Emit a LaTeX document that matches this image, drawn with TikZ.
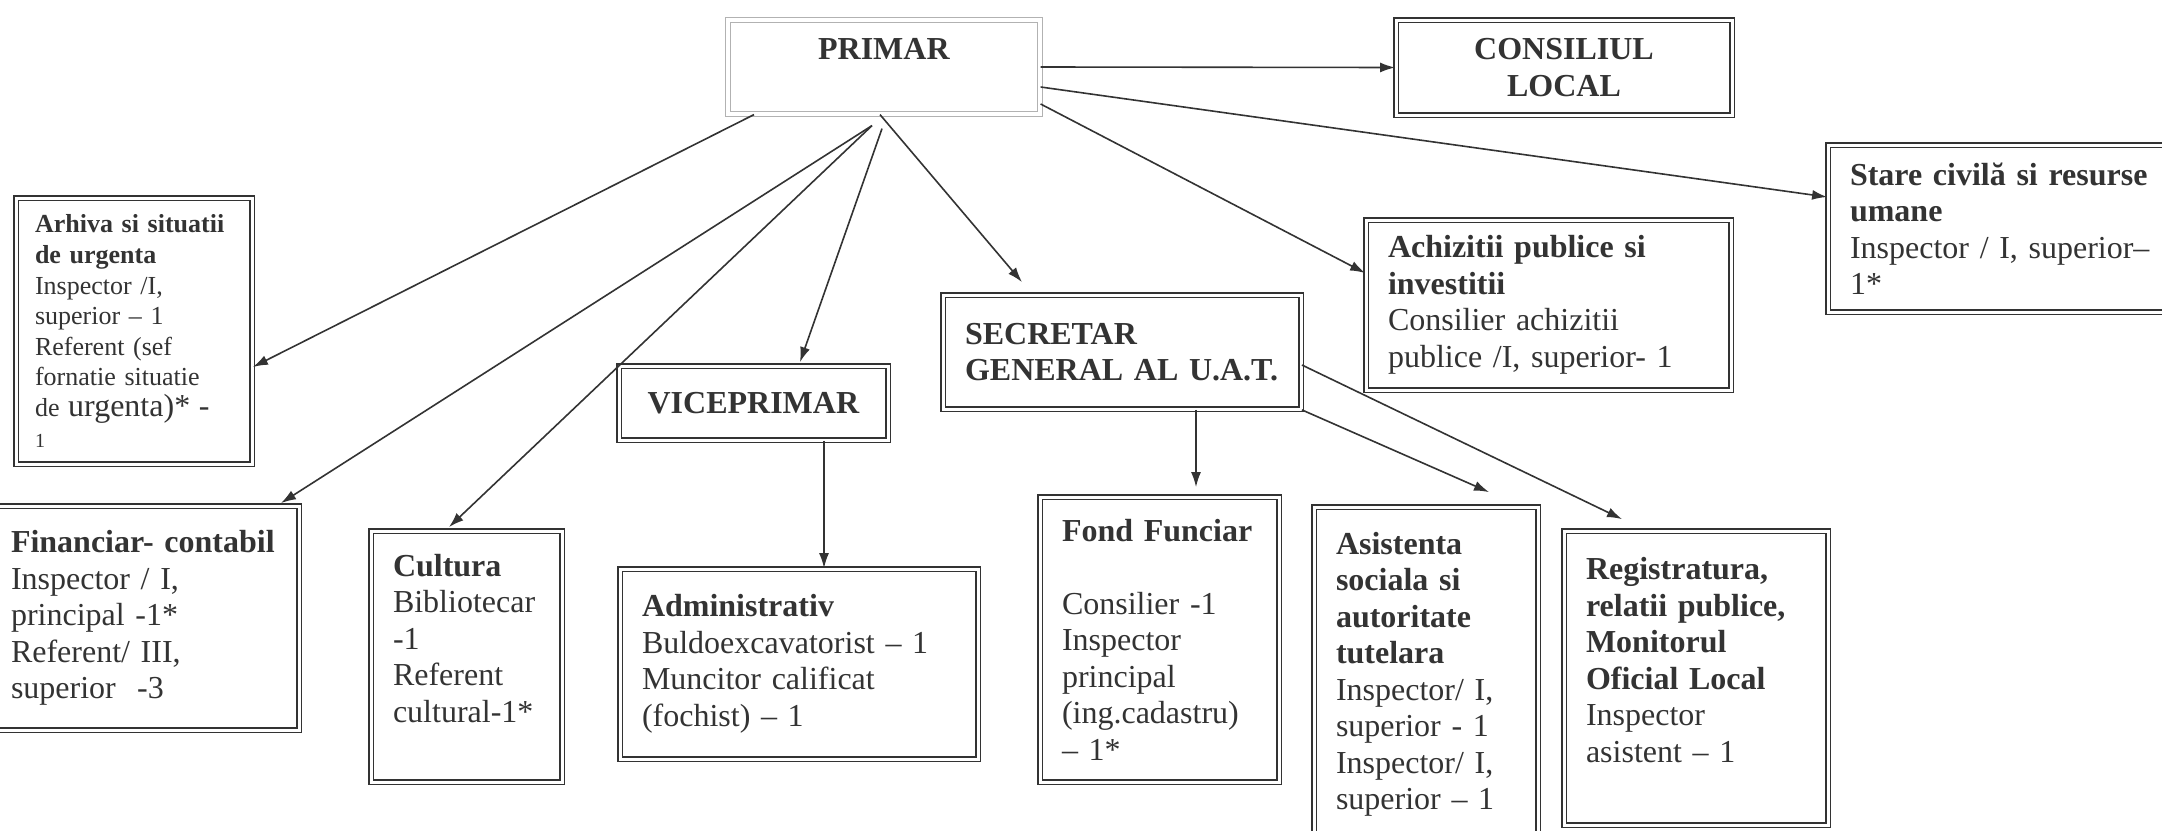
\documentclass[tikz,border=0pt]{standalone}
\usepackage{fontspec}
\setmainfont{Liberation Serif}
\usetikzlibrary{arrows.meta}
\definecolor{linec}{gray}{0.2}
\definecolor{textc}{gray}{0.2}
\newcommand\fsmain{\fontsize{16pt}{18.25pt}\selectfont}
\newcommand\fssmall{\fontsize{13pt}{15.3pt}\selectfont}
\tikzset{
  box/.style={draw=linec, double=white, line width=0.9pt, double distance=1.5pt,
    align=left, inner xsep=11pt, inner ysep=2pt, text=textc, font=\fsmain},
  conn/.style={draw=linec, line width=0.8pt, -{Latex[length=7.5pt,width=5pt]}},
}
\begin{document}
\begin{tikzpicture}[x=0.5pt,y=-0.5pt]
\useasboundingbox (0,0) rectangle (2162,830);
\fill[white] (0,0) rectangle (2162,830);
\clip (0,0) rectangle (2162,830);

% top level
\node[box, draw=gray!60, line width=0.6pt, double distance=1.6pt, align=center,
  text width=134pt, minimum height=47pt] (primar) at (884,67) {\textbf{PRIMAR}\\ \mbox{}};
\node[box, align=center, text width=146pt, minimum height=47.5pt] (consiliul) at (1564,67.5)
  {\textbf{CONSILIUL}\\\textbf{LOCAL}};
\node[box, text width=155pt, minimum height=83.5pt] (stare) at (2005,228.5)
  {\textbf{Stare civilă si resurse}\\\textbf{umane}\\Inspector / I, superior–\\1*};
\node[box, text width=160.5pt, minimum height=85pt] (achiz) at (1548.5,305)
  {\textbf{Achizitii publice si}\\\textbf{investitii}\\Consilier achizitii\\publice /I, superior- 1};
\node[box, text width=157pt, minimum height=57pt] (secretar) at (1122,352)
  {\textbf{SECRETAR}\\\textbf{GENERAL AL U.A.T.}};
\node[box, align=center, text width=112.5pt, minimum height=37pt] (vice) at (753.5,403)
  {\textbf{VICEPRIMAR}};
\node[box, font=\fssmall, inner xsep=9.5pt, text width=99pt, minimum height=133pt] (arhiva) at (134,331)
  {\textbf{Arhiva si situatii}\\\textbf{de urgenta}\\Inspector /I,\\superior – 1\\Referent (sef\\fornatie situatie\\de {\fsmain urgenta)* -}\\{\fontsize{10pt}{12pt}\selectfont 1}};

% bottom row
\node[box, inner xsep=10pt, text width=134pt, minimum height=112pt] (fin) at (145,618)
  {\textbf{Financiar- contabil}\\Inspector / I,\\principal -1*\\Referent/ III,\\superior\ \ -3};
\node[box, text width=73.5pt, minimum height=125.5pt] (cult) at (466.5,656.5)
  {\textbf{Cultura}\\Bibliotecar\\-1\\Referent\\cultural-1*\\ \mbox{}};
\node[box, text width=157pt, minimum height=95pt] (admin) at (799,664)
  {\textbf{Administrativ}\\Buldoexcavatorist – 1\\Muncitor calificat\\(fochist) – 1};
\node[box, text width=97.5pt, minimum height=142.5pt] (fond) at (1159.5,639.5)
  {\textbf{Fond Funciar}\\ \mbox{}\\Consilier -1\\Inspector\\principal\\(ing.cadastru)\\– 1*};
\node[box, text width=90pt, minimum height=167.5pt] (asist) at (1426,674.5)
  {\textbf{Asistenta}\\\textbf{sociala si}\\\textbf{autoritate}\\\textbf{tutelara}\\Inspector/ I,\\superior - 1\\Inspector/ I,\\superior – 1};
\node[box, text width=110pt, minimum height=147pt] (reg) at (1696,678)
  {\textbf{Registratura,}\\\textbf{relatii publice,}\\\textbf{Monitorul}\\\textbf{Oficial Local}\\Inspector\\asistent – 1\\ \mbox{}};

% connectors
\draw[conn] (primar.east) -- (consiliul.west);
\draw[conn] ([yshift=-10pt]primar.east) -- ([yshift=15.75pt]stare.west);
\draw[conn] ([yshift=-18.5pt]primar.east) -- ([yshift=16pt]achiz.west);
\draw[conn] ([xshift=-2pt]primar.south) -- ([shift={(-50pt,6pt)}]secretar.north);
\draw[conn] ([shift={(-1pt,-7pt)}]primar.south) -- ([shift={(23.25pt,1.5pt)}]vice.north);
\draw[conn] ([xshift=-65pt]primar.south) -- ([yshift=-18pt]arhiva.east);
\draw[conn] ([shift={(-6pt,-5.5pt)}]primar.south) -- ([shift={(68pt,1pt)}]fin.north);
\draw[conn] ([shift={(-6pt,-5.5pt)}]primar.south) -- ([shift={(-8.75pt,1.5pt)}]cult.north);
\draw[conn] ([xshift=35.25pt]vice.south) -- ([xshift=12.5pt]admin.north);
\draw[conn] ([xshift=37pt]secretar.south) -- ([shift={(18.25pt,4.5pt)}]fond.north);
\draw[conn] (secretar.south east) -- ([shift={(31.5pt,7pt)}]asist.north);
\draw[conn] ([yshift=-6.5pt]secretar.east) -- ([shift={(-37pt,5.5pt)}]reg.north);
\end{tikzpicture}
\end{document}
